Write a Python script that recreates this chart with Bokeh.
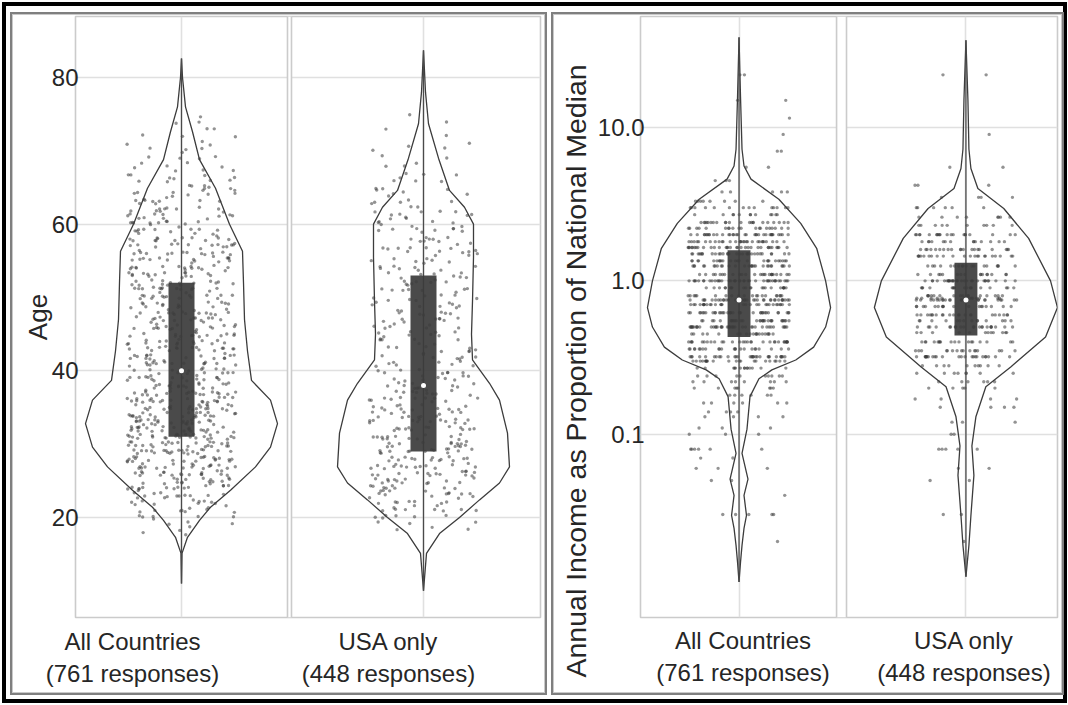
import numpy as np
from bokeh.plotting import figure
from bokeh.layouts import row, column
from bokeh.models import (Range1d, FixedTicker, PrintfTickFormatter, Span,
                          BoxAnnotation, ColumnDataSource, Spacer, Title)
from bokeh.transform import jitter
from bokeh.embed import file_html
from bokeh.resources import INLINE

# ---------------- data ----------------
category_labels = ["All Countries\n(761 responses)", "USA only\n(448 responses)"]
income_title = "Annual Income as Proportion of  National Median"

# Age: integer ages with number of responses
age_values = list(range(18, 76))
age_counts_all = [3, 4, 6, 9, 11, 13, 15, 16, 18, 19,
                  21, 22, 23, 24, 24, 23, 23, 22, 21, 19,
                  18, 17, 16, 16, 16, 16, 15, 15, 15, 15,
                  15, 15, 15, 15, 15, 15, 15, 14, 14, 14,
                  13, 12, 11, 11, 10, 9, 8, 8, 7, 6,
                  5, 4, 4, 3, 3, 2, 2, 1]
age_counts_usa = [2, 4, 6, 8, 9, 11, 12, 13, 14, 14,
                  14, 14, 14, 13, 13, 13, 12, 12, 11, 10,
                  10, 9, 8, 8, 8, 8, 7, 8, 7, 8,
                  8, 8, 8, 8, 8, 8, 8, 7, 8, 8,
                  8, 8, 7, 7, 6, 5, 4, 4, 4, 3,
                  3, 2, 2, 2, 1, 1, 1, 1]
age_q1 = [31, 29]
age_median = [40, 38]
age_q3 = [52, 53]

# Age violin outlines: age level and relative density
age_violin_all_y = [11, 15.1, 17.3, 19.6, 21.4, 23.7, 26.9, 29.6, 32.8, 36, 38.7,
                    42.7, 47, 52, 56.3, 60, 64.9, 68.8, 72.6, 76, 80, 82.6]
age_violin_all_d = [0, 0.5, 6, 18, 29, 49, 74, 89, 96, 89, 70,
                    66, 63, 62, 61, 48, 34, 18, 11, 4, 1, 0]
age_violin_usa_y = [10, 15.1, 17.8, 20, 22.4, 24.7, 26.9, 31.5, 36, 38.3, 41.5,
                    45, 49.5, 55.5, 60, 62.3, 64.6, 69, 73.7, 78, 83.7]
age_violin_usa_d = [0, 3, 16, 36, 56, 76, 86, 84, 76, 66, 49,
                    48, 49, 50, 50, 41, 26, 15, 5, 2, 0]

# Income as proportion of national median: levels with counts
income_values_all = [22, 15, 11.5, 9, 7, 5.5, 4.5, 3.8, 3.3, 3.0, 2.7, 2.4, 2.2, 2.0, 1.8, 1.65,
                     1.5, 1.35, 1.25, 1.1, 1.0, 0.9, 0.8,
                     0.75, 0.7, 0.62, 0.55, 0.5, 0.45,
                     0.4, 0.36, 0.32, 0.3, 0.27, 0.24, 0.22, 0.2, 0.18, 0.16, 0.14, 0.13,
                     0.11, 0.1, 0.08, 0.07, 0.06, 0.05, 0.04, 0.03, 0.02]
income_counts_all = [2, 2, 1, 1, 2, 2, 3, 5, 8, 14, 12, 22, 20, 34, 30, 32,
                     30, 25, 28, 25, 40, 22, 20,
                     35, 30, 35, 30, 40, 20,
                     30, 23, 30, 22, 14, 10, 8, 8, 6, 6, 4, 4,
                     3, 3, 6, 2, 3, 2, 1, 5, 1]
income_values_usa = [22, 9, 5.5, 4.2, 3.5, 3.0, 2.6, 2.3, 2.0, 1.8, 1.6, 1.45,
                     1.25, 1.1, 1.0, 0.9, 0.8, 0.77,
                     0.75, 0.68, 0.6, 0.55, 0.5, 0.46,
                     0.4, 0.35, 0.32, 0.28, 0.25, 0.22, 0.2, 0.17, 0.15, 0.12, 0.1,
                     0.08, 0.06, 0.05, 0.03, 0.02]
income_counts_usa = [2, 1, 2, 3, 4, 6, 8, 10, 20, 14, 20, 22,
                     18, 16, 30, 18, 16, 14,
                     24, 18, 22, 14, 22, 12,
                     18, 16, 24, 10, 8, 6, 5, 4, 4, 3, 2,
                     5, 2, 2, 2, 1]
income_q1 = [0.43, 0.44]
income_median = [0.75, 0.75]
income_q3 = [1.58, 1.31]

income_violin_all_y = [0.0109, 0.0147, 0.0189, 0.0244, 0.0296, 0.04, 0.051, 0.075, 0.108,
                       0.176, 0.23, 0.263, 0.305, 0.37, 0.50, 0.67, 1.0, 1.63, 2.37, 3.4,
                       4.6, 5.6, 7.2, 15.8, 38.6]
income_violin_all_d = [0, 1.5, 3, 5, 7.5, 5, 9, 3, 8,
                       11, 20, 33, 57, 75, 87, 92, 87, 78, 62, 40,
                       12, 5, 3, 1.5, 0]
income_violin_usa_y = [0.0118, 0.0189, 0.0296, 0.054, 0.084, 0.13, 0.204, 0.275, 0.43,
                       0.67, 1.0, 1.89, 2.96, 4.0, 5.4, 7.2, 15.1, 37]
income_violin_usa_d = [0, 3, 5, 8, 6, 10, 20, 45, 80,
                       92, 85, 63, 38, 12, 5, 3, 2, 0]

# ---------------- styling helpers ----------------
FONT = "Liberation Sans"
TXT = "#262626"
GRID = "#e0e0e0"
PANEL = "#cbcbcb"
BOX_OUTLINE = {"outline": "2px solid #7f7f7f", "outline-offset": "1px",
               "box-shadow": "0 0 0 1px #c9c9c9"}


def base_figure(width, height, x_range, y_range, y_type="linear", borders=(0, 0, 0, 0)):
    p = figure(width=width, height=height, x_range=x_range, y_range=y_range,
               y_axis_type=y_type, output_backend="svg", toolbar_location=None,
               min_border_left=borders[0], min_border_right=borders[1],
               min_border_top=borders[2], min_border_bottom=borders[3])
    p.outline_line_color = PANEL
    p.outline_line_width = 1.6
    p.background_fill_color = "white"
    p.border_fill_color = "white"
    p.grid.grid_line_color = GRID
    p.grid.grid_line_width = 1.6
    for ax in (p.xaxis, p.yaxis):
        ax.axis_line_color = None
        ax.minor_tick_line_color = None
        ax.major_tick_line_color = None
        ax.major_tick_out = 0
        ax.major_tick_in = 0
        ax.major_label_text_font = FONT
        ax.major_label_text_color = TXT
        ax.major_label_text_font_size = "24px"
    p.xaxis.major_label_standoff = 10
    p.styles = BOX_OUTLINE
    return p


def draw_group(p, center, pts_y, q1, med, q3, vy, vd, dmax, half_w, box_w, y_jit):
    src = ColumnDataSource(dict(x=[center] * len(pts_y), y=pts_y))
    ycoord = jitter("y", width=y_jit) if y_jit else "y"
    p.scatter(x=jitter("x", width=0.45), y=ycoord, source=src, size=3.4,
              fill_color="#3a3a3a", fill_alpha=0.55, line_color=None)
    vy = np.asarray(vy, float)
    hw = np.asarray(vd, float) / dmax * half_w
    xs = np.concatenate([center - hw, (center + hw)[::-1]])
    ys = np.concatenate([vy, vy[::-1]])
    p.patch(xs, ys, fill_color=None, line_color="#3c3c3c", line_width=1.3)
    p.segment(x0=[center], y0=[vy.min()], x1=[center], y1=[vy.max()],
              line_color="#4a4a4a", line_width=1.3)
    p.quad(left=[center - box_w / 2], right=[center + box_w / 2], bottom=[q1], top=[q3],
           fill_color="#3b3b3b", fill_alpha=0.92, line_color=None)
    p.scatter(x=[center], y=[med], size=5, fill_color="white", line_color=None)


def separators(p, a, b):
    p.add_layout(BoxAnnotation(left=a, right=b, fill_color="white", fill_alpha=1.0,
                               line_color=None))
    for loc in (a, b):
        p.add_layout(Span(location=loc, dimension="height", line_color=PANEL,
                          line_width=1.6))


H = 677

# ---------------- left: Age ----------------
left = base_figure(531, H, Range1d(1 - 106 / 242, 1 + 359 / 242), Range1d(6.36, 88.32),
                   borders=(62, 4, 1, 75))
left.yaxis.ticker = FixedTicker(ticks=[20, 40, 60, 80])
left.ygrid.ticker = FixedTicker(ticks=[20, 40, 60, 80])
left.xgrid.ticker = FixedTicker(ticks=[1, 2])
left.yaxis.major_label_standoff = -3
left.yaxis.axis_label = "Age"
left.yaxis.axis_label_text_font = FONT
left.yaxis.axis_label_text_font_style = "normal"
left.yaxis.axis_label_text_font_size = "26px"
left.yaxis.axis_label_text_color = TXT
left.yaxis.axis_label_standoff = -4
lab_pos_left = [1 - 49 / 242, 2 - 35 / 242]
left.xaxis.ticker = FixedTicker(ticks=lab_pos_left)
left.xaxis.major_label_overrides = {lab_pos_left[i]: category_labels[i] for i in range(2)}
separators(left, 1 + 106 / 242, 1 + 110 / 242)

ages_all = list(np.repeat(age_values, age_counts_all).astype(float))
ages_usa = list(np.repeat(age_values, age_counts_usa).astype(float))
dmax_age = max(age_violin_all_d)
draw_group(left, 1, ages_all, age_q1[0], age_median[0], age_q3[0],
           age_violin_all_y, age_violin_all_d, dmax_age, 96 / 242, 26 / 242, 0.8)
draw_group(left, 2, ages_usa, age_q1[1], age_median[1], age_q3[1],
           age_violin_usa_y, age_violin_usa_d, dmax_age, 96 / 242, 26 / 242, 0.8)

# ---------------- right: Income ----------------
right = base_figure(507, H, Range1d(1 - 99 / 228, 1 + 320 / 228), Range1d(0.0064, 52.8),
                    y_type="log", borders=(84, 4, 1, 69))
right.yaxis.ticker = FixedTicker(ticks=[0.1, 1, 10])
right.ygrid.ticker = FixedTicker(ticks=[0.1, 1, 10])
right.yaxis.formatter = PrintfTickFormatter(format="%.1f")
right.yaxis.major_label_standoff = -4
right.xgrid.ticker = FixedTicker(ticks=[1, 2])
lab_pos_right = [1 + 4 / 228, 2 - 2 / 228]
right.xaxis.ticker = FixedTicker(ticks=lab_pos_right)
right.xaxis.major_label_overrides = {lab_pos_right[i]: category_labels[i] for i in range(2)}
right.xaxis.major_label_standoff = 9
separators(right, 1 + 98 / 228, 1 + 108 / 228)

inc_all = list(np.repeat(income_values_all, income_counts_all).astype(float))
inc_usa = list(np.repeat(income_values_usa, income_counts_usa).astype(float))
dmax_inc = max(income_violin_all_d)
draw_group(right, 1, inc_all, income_q1[0], income_median[0], income_q3[0],
           income_violin_all_y, income_violin_all_d, dmax_inc, 92 / 228, 23 / 228, 0)
draw_group(right, 2, inc_usa, income_q1[1], income_median[1], income_q3[1],
           income_violin_usa_y, income_violin_usa_d, dmax_inc, 92 / 228, 23 / 228, 0)

right.add_layout(Title(text=income_title, align="left", offset=-60, standoff=6,
                       text_font=FONT, text_font_size="28.5px", text_font_style="normal",
                       text_color=TXT), "left")

# ---------------- page layout ----------------
inner = row(Spacer(width=7), left, Spacer(width=10), right, Spacer(width=2), spacing=0)
content = column(Spacer(height=9), inner, Spacer(height=7), spacing=0,
                 styles={"outline": "4px solid black"})
layout = column(Spacer(height=6), row(Spacer(width=6), content, spacing=0), spacing=0)

open("out.html", "w").write(file_html(layout, INLINE))
